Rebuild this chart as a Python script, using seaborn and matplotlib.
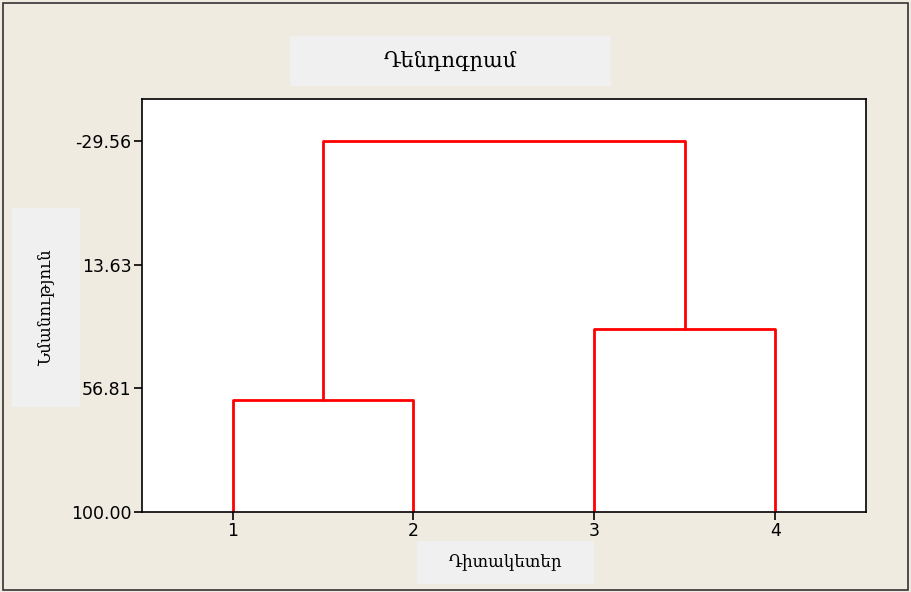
import matplotlib

matplotlib.use("Agg")
import matplotlib.pyplot as plt
from matplotlib.patches import Rectangle
import pandas as pd
import seaborn as sns

LEAVES = [1, 2, 3, 4]
MERGE_LEFT = ["1", "3", "a"]
MERGE_RIGHT = ["2", "4", "b"]
MERGE_NAME = ["a", "b", "c"]
MERGE_SIMILARITY = [60.9, 36.1, -29.56]

Y_TICKS = [100.00, 56.81, 13.63, -29.56]

TITLE = "Դենդոգրամ"
X_LABEL = "Դիտակետեր"
Y_LABEL = "Նմանություն"

BG = "#EFEBE1"
BOX = "#F0F0F0"
RED = "#FF0000"


def dendro_segments() -> pd.DataFrame:
    # position and base height of each node; leaves sit at 100 (full similarity)
    pos = {str(leaf): float(leaf) for leaf in LEAVES}
    base = {str(leaf): 100.0 for leaf in LEAVES}
    rows = []
    for name, left, right, h in zip(MERGE_NAME, MERGE_LEFT, MERGE_RIGHT, MERGE_SIMILARITY):
        xs = [pos[left], pos[left], pos[right], pos[right]]
        ys = [base[left], h, h, base[right]]
        for i, (x, y) in enumerate(zip(xs, ys)):
            rows.append({"seg": name, "order": i, "x": x, "y": y})
        pos[name] = (pos[left] + pos[right]) / 2
        base[name] = h
    return pd.DataFrame(rows)


def main() -> int:
    sns.set_theme(style="white")
    plt.rcParams["font.family"] = ["DejaVu Sans"]

    W, H = 911, 592
    fig = plt.figure(figsize=(W / 100, H / 100), dpi=100, facecolor=BG)

    def fx(px):
        return px / W

    def fy(py):
        return 1 - py / H

    # outer frame
    fig.patches.append(Rectangle((fx(3), fy(590)), fx(905), 587 / H, transform=fig.transFigure,
                                 fill=False, edgecolor="#333333", linewidth=1.2))

    ax = fig.add_axes([fx(142), fy(512), fx(724), 413 / H])
    ax.set_facecolor("white")

    seg = dendro_segments()
    sns.lineplot(data=seg, x="x", y="y", units="seg", estimator=None, sort=False,
                 color=RED, linewidth=2.0, ax=ax, legend=False)

    ax.set_xlim(0.5, 4.5)
    ax.set_ylim(100.0, -44.2)
    ax.set_xticks(LEAVES)
    ax.set_xticklabels([str(v) for v in LEAVES])
    ax.set_yticks(Y_TICKS)
    ax.set_yticklabels([f"{v:.2f}" for v in Y_TICKS])
    ax.tick_params(axis="both", direction="out", length=6, width=1.2, color="black",
                   labelsize=12.5, labelcolor="black", pad=1.5, left=True, bottom=True)
    ax.set_xlabel("")
    ax.set_ylabel("")
    for s in ax.spines.values():
        s.set_color("black")
        s.set_linewidth(1.2)

    # label boxes
    def box(x0, y0, x1, y1, text, size, rot=0):
        fig.patches.append(Rectangle((fx(x0), fy(y1)), fx(x1 - x0), (y1 - y0) / H,
                                     transform=fig.transFigure, facecolor=BOX, edgecolor="none"))
        fig.text(fx((x0 + x1) / 2), fy((y0 + y1) / 2), text, ha="center", va="center",
                 fontsize=size, rotation=rot, color="black",
                 family=["DejaVu Serif", "DejaVu Sans"])

    box(290, 36, 611, 86, TITLE, 15)
    box(12, 208, 80, 407, Y_LABEL, 12, rot=90)
    box(417, 541, 594, 584, X_LABEL, 12)

    fig.savefig("out.png", dpi=100, facecolor=BG)
    plt.close(fig)
    return 0


if __name__ == "__main__":
    raise SystemExit(main())
